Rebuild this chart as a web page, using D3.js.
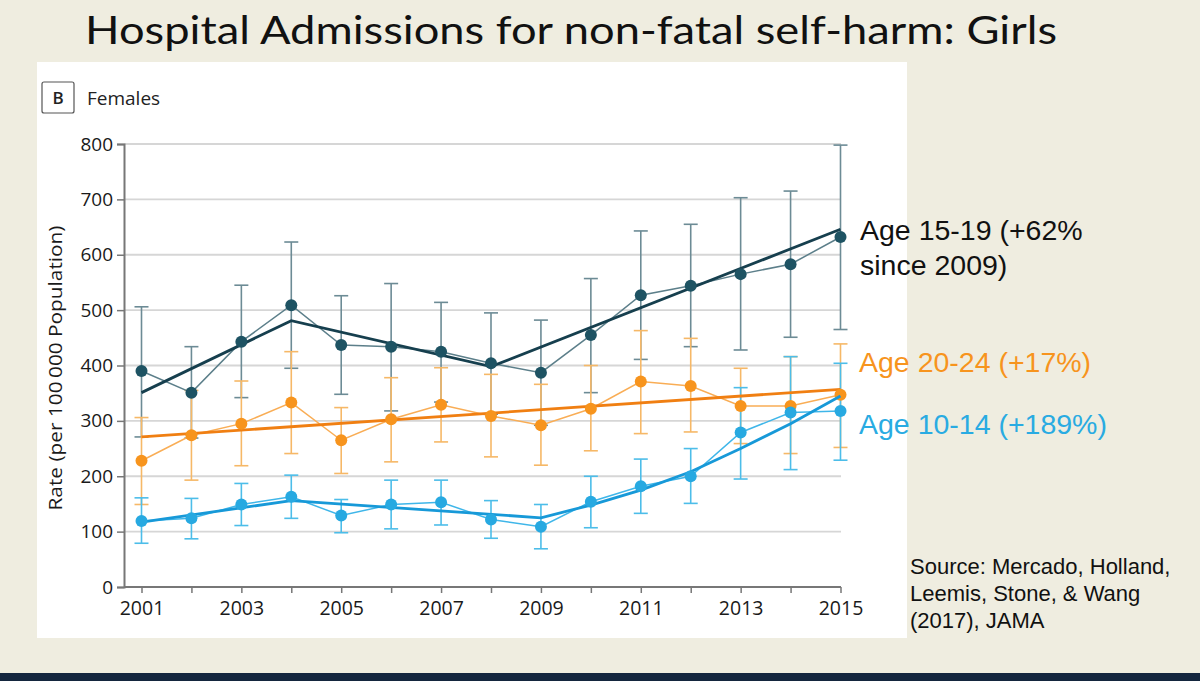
<!DOCTYPE html>
<html><head><meta charset="utf-8">
<script src="https://cdn.jsdelivr.net/npm/d3@7"></script>
<style>html,body{margin:0;padding:0;background:#efede0;}svg{display:block;}</style>
</head><body>
<svg id="c" width="1200" height="681"></svg>
<script>
const years = [2001,2002,2003,2004,2005,2006,2007,2008,2009,2010,2011,2012,2013,2014,2015];
const xTickLabels = [2001,2003,2005,2007,2009,2011,2013,2015];
const yTicks = [0,100,200,300,400,500,600,700,800];

const age1519 = [390,351,443,509,437,434,425,404,387,455,527,544,565,583,632];
const age1519Hi = [506,434,545,623,526,548,514,495,482,557,643,655,703,715,798];
const age1519Lo = [271,269,342,395,348,318,334,312,292,351,411,434,428,451,465];
const fit1519Years = [2001,2004,2008,2015];
const fit1519 = [351,481,398,646];

const age2024 = [228,274,295,333,265,303,329,309,292,322,371,363,327,327,347];
const age2024Hi = [306,355,372,425,324,378,396,384,366,400,463,449,395,416,439];
const age2024Lo = [149,193,219,241,205,226,262,235,220,246,277,280,259,241,252];
const fit2024Years = [2001,2015];
const fit2024 = [271,357];

const age1014 = [119,124,149,163,129,149,153,122,109,154,182,200,279,315,318];
const age1014Hi = [161,160,187,202,158,193,193,156,149,200,231,250,360,416,404];
const age1014Lo = [79,87,111,124,98,105,112,88,69,107,133,151,195,212,229];
const fit1014Years = [2001,2004,2009,2010,2011,2012,2013,2014,2015];
const fit1014 = [117,156,125,148,175,208,250,295,345];

const svg = d3.select("#c");
svg.append("rect").attr("x",0).attr("y",0).attr("width",1200).attr("height",681).attr("fill","#efede0");
svg.append("rect").attr("x",0).attr("y",673).attr("width",1200).attr("height",8).attr("fill","#14263e");
svg.append("rect").attr("x",37).attr("y",62).attr("width",870).attr("height",576).attr("fill","#ffffff");

// title
svg.append("text").attr("x",571).attr("y",44).attr("text-anchor","middle")
  .attr("font-family","Lato, Open Sans, sans-serif").attr("font-size",38)
  .attr("textLength",972).attr("lengthAdjust","spacingAndGlyphs")
  .attr("fill","#111").text("Hospital Admissions for non-fatal self-harm: Girls");

// panel label
svg.append("rect").attr("x",42).attr("y",82).attr("width",32).attr("height",31).attr("rx",2)
  .attr("fill","#fff").attr("stroke","#555").attr("stroke-width",1.2);
svg.append("text").attr("x",58).attr("y",104).attr("text-anchor","middle")
  .attr("font-family","Open Sans, sans-serif").attr("font-size",17).attr("font-weight","600").attr("fill","#222").text("B");
svg.append("text").attr("x",87).attr("y",105)
  .attr("font-family","Open Sans, sans-serif").attr("font-size",19).attr("fill","#222").text("Females");

const x = d3.scaleLinear().domain([2001,2015]).range([141.5,840.5]);
const y = d3.scaleLinear().domain([0,800]).range([587,144]);

// gridlines
svg.append("g").selectAll("line").data(yTicks.filter(d=>d>0)).join("line")
  .attr("x1",124).attr("x2",841).attr("y1",d=>y(d)).attr("y2",d=>y(d))
  .attr("stroke","#d6d6d6").attr("stroke-width",1.8);

// y axis
const yAxis = svg.append("g").attr("transform","translate(124,0)")
  .call(d3.axisLeft(y).tickValues(yTicks).tickSize(7).tickPadding(4));
yAxis.select(".domain").attr("stroke","#777").attr("stroke-width",2);
yAxis.selectAll(".tick line").attr("stroke","#777").attr("stroke-width",1.5);
yAxis.selectAll(".tick text").attr("font-family","Open Sans, sans-serif").attr("font-size",19).attr("fill","#1a1a1a");

// x axis
const xAxis = svg.append("g").attr("transform","translate(0,587)")
  .call(d3.axisBottom(x).tickValues(years).tickSize(6).tickPadding(8)
    .tickFormat(d=>xTickLabels.includes(d)?String(d):""));
xAxis.select(".domain").attr("d","M124,0H841").attr("stroke","#777").attr("stroke-width",2);
xAxis.selectAll(".tick line").attr("stroke","#777").attr("stroke-width",1.5);
xAxis.selectAll(".tick text").attr("font-family","Open Sans, sans-serif").attr("font-size",19.5).attr("fill","#1a1a1a");

// y label
svg.append("text").attr("transform","translate(62,368) rotate(-90)").attr("text-anchor","middle")
  .attr("font-family","Open Sans, sans-serif").attr("font-size",18.5).attr("fill","#1a1a1a")
  .attr("textLength",285).attr("lengthAdjust","spacingAndGlyphs")
  .text("Rate (per 100\u2009000 Population)");

function errBars(lo, hi, color){
  const g = svg.append("g").attr("stroke",color).attr("stroke-width",1.6).attr("fill","none");
  const d = years.map((yr,i)=>({yr, lo:lo[i], hi:hi[i]}));
  g.selectAll("line.v").data(d).join("line").attr("class","v")
    .attr("x1",d=>x(d.yr)).attr("x2",d=>x(d.yr)).attr("y1",d=>y(d.lo)).attr("y2",d=>y(d.hi));
  g.selectAll("line.h").data(d).join("line").attr("class","h")
    .attr("x1",d=>x(d.yr)-7).attr("x2",d=>x(d.yr)+7).attr("y1",d=>y(d.hi)).attr("y2",d=>y(d.hi));
  g.selectAll("line.l").data(d).join("line").attr("class","l")
    .attr("x1",d=>x(d.yr)-7).attr("x2",d=>x(d.yr)+7).attr("y1",d=>y(d.lo)).attr("y2",d=>y(d.lo));
}
errBars(age1519Lo, age1519Hi, "#6c8b95");
errBars(age2024Lo, age2024Hi, "#f6b867");
errBars(age1014Lo, age1014Hi, "#4cbde9");

const line = d3.line().x(d=>x(d[0])).y(d=>y(d[1]));
function series(vals, thinColor, fitYears, fitVals, fitColor, dotColor){
  svg.append("path").attr("d", line(years.map((yr,i)=>[yr,vals[i]])))
    .attr("fill","none").attr("stroke",thinColor).attr("stroke-width",1.5);
  svg.append("path").attr("d", line(fitYears.map((yr,i)=>[yr,fitVals[i]])))
    .attr("fill","none").attr("stroke",fitColor).attr("stroke-width",2.8);
  svg.append("g").selectAll("circle").data(vals).join("circle")
    .attr("cx",(d,i)=>x(years[i])).attr("cy",d=>y(d)).attr("r",6).attr("fill",dotColor);
}
series(age1519, "#5c7f8a", fit1519Years, fit1519, "#163f4e", "#1e5363");
series(age2024, "#f9ad55", fit2024Years, fit2024, "#f07f12", "#f7941d");
series(age1014, "#3fb6e9", fit1014Years, fit1014, "#1799d8", "#27a9e1");

const ann = svg.append("g").attr("font-family","Liberation Sans, Arial, sans-serif").attr("font-size",28.5);
ann.append("text").attr("x",860).attr("y",240).attr("fill","#111").text("Age 15-19 (+62%");
ann.append("text").attr("x",860).attr("y",275).attr("fill","#111").text("since 2009)");
ann.append("text").attr("x",859).attr("y",372).attr("fill","#f7941d").text("Age 20-24 (+17%)");
ann.append("text").attr("x",859).attr("y",434).attr("fill","#29abe2").text("Age 10-14 (+189%)");

const src = svg.append("g").attr("font-family","Liberation Sans, Arial, sans-serif").attr("font-size",22).attr("fill","#111");
["Source: Mercado, Holland,","Leemis, Stone, & Wang","(2017), JAMA"].forEach((t,i)=>{
  src.append("text").attr("x",910).attr("y",574+i*27).text(t);
});
</script>
</body></html>
